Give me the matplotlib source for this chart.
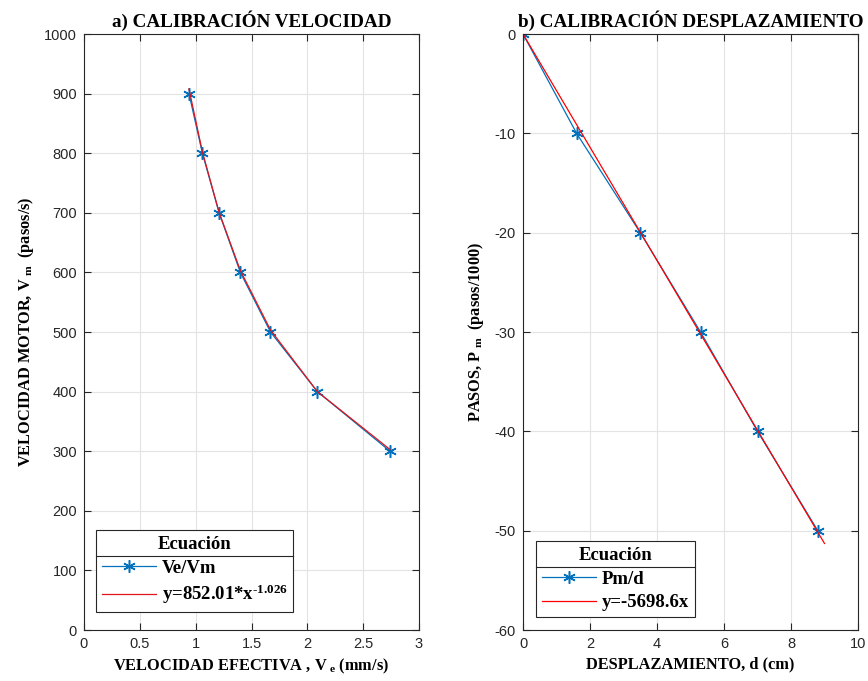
import matplotlib
matplotlib.use("Agg")
import matplotlib.pyplot as plt
import numpy as np
from matplotlib.lines import Line2D

# velocity calibration: effective speed (mm/s) vs motor speed (steps/s)
ve = [0.94, 1.06, 1.21, 1.40, 1.67, 2.09, 2.74]
vm = [900, 800, 700, 600, 500, 400, 300]
fit_a, fit_b = 852.01, -1.026

# displacement calibration: displacement (cm) vs steps (thousands)
d_cm = [0.0, 1.6, 3.5, 5.3, 7.0, 8.8]
pasos = [0, -10, -20, -30, -40, -50]
slope = -5698.6
d_fit = [0.0, 9.0]

plt.rcParams['mathtext.fontset'] = 'custom'
plt.rcParams['mathtext.rm'] = 'Liberation Serif:bold'
plt.rcParams['mathtext.it'] = 'Liberation Serif:bold'
plt.rcParams['mathtext.bf'] = 'Liberation Serif:bold'
plt.rcParams['axes.unicode_minus'] = False

blue = '#0072BD'
axcol = '#262626'
serif = dict(family='Liberation Serif', weight='bold')
star = (6, 2, 0)

fig = plt.figure(figsize=(8.68, 6.81), dpi=100)
ax1 = fig.add_axes([84/868, 51/681, 335/868, 596/681])
ax2 = fig.add_axes([523/868, 51/681, 335/868, 596/681])


def style(ax):
    ax.grid(True, color='#E3E3E3', linewidth=0.8)
    ax.set_axisbelow(True)
    ax.tick_params(direction='in', top=True, right=True, length=5,
                   colors=axcol, labelsize=10.5, width=0.8, pad=5)
    for lab in ax.get_xticklabels() + ax.get_yticklabels():
        lab.set_family('Liberation Sans')
    for s in ax.spines.values():
        s.set_color(axcol)
        s.set_linewidth(0.8)


# a) velocity
ve_arr = np.array(ve)
ax1.plot(ve, vm, color=blue, marker=star, markersize=9, markeredgewidth=1.1,
         linewidth=0.9, label='Ve/Vm')
ax1.plot(ve, fit_a * ve_arr ** fit_b, color='#E0141C', linewidth=0.9,
         label='y=852.01*x$^{\u20101.026}$')
ax1.set_xlim(0, 3)
ax1.set_ylim(0, 1000)
ax1.set_xticks(np.arange(0, 3.01, 0.5))
ax1.set_xticklabels(['0', '0.5', '1', '1.5', '2', '2.5', '3'])
ax1.set_yticks(np.arange(0, 1001, 100))
style(ax1)
ax1.set_title('a) CALIBRACIÓN VELOCIDAD', fontsize=13.8, pad=5, **serif)
ax1.set_xlabel(r'VELOCIDAD EFECTIVA , V$_{\ \rm e}$ (mm/s)', fontsize=11.8, labelpad=4, **serif)
ax1.set_ylabel(r'VELOCIDAD MOTOR, V$_{\ \rm m}$  (pasos/s)', fontsize=11.8, labelpad=6, **serif)

# b) displacement
ax2.plot(d_cm, pasos, color=blue, marker=star, markersize=9, markeredgewidth=1.1,
         linewidth=0.9, label='Pm/d')
ax2.plot(d_fit, [slope * x / 1000 for x in d_fit], color='#FF0000', linewidth=0.9,
         label='y=-5698.6x')
ax2.set_xlim(0, 10)
ax2.set_ylim(-60, 0)
ax2.set_xticks(np.arange(0, 11, 2))
ax2.set_yticks(np.arange(-60, 1, 10))
style(ax2)
ax2.set_title('b) CALIBRACIÓN DESPLAZAMIENTO', fontsize=13.8, pad=5, **serif)
ax2.set_xlabel('DESPLAZAMIENTO, d (cm)', fontsize=11.8, labelpad=4, **serif)
ax2.set_ylabel(r'PASOS, P$_{\ \rm m}$  (pasos/1000)', fontsize=11.8, labelpad=6, **serif)

legs = []
for ax, anchor in [(ax1, (0.036, 0.030)), (ax2, (0.039, 0.022))]:
    leg = ax.legend(loc='lower left', bbox_to_anchor=anchor, title='Ecuación',
                    fancybox=False, edgecolor=axcol, framealpha=1,
                    prop=dict(family='Liberation Serif', weight='bold', size=13.5),
                    handlelength=2.9, handletextpad=0.3, borderpad=0.3,
                    labelspacing=0.35, borderaxespad=0)
    leg.get_title().set_fontproperties(dict(family='Liberation Serif', weight='bold', size=13.5))
    leg.get_frame().set_linewidth(0.8)
    legs.append(leg)

# separator line under each legend title
fig.canvas.draw()
r = fig.canvas.get_renderer()
for leg in legs:
    bb = leg.get_window_extent(r)
    tb = leg.get_title().get_window_extent(r)
    yline = tb.y0 - 3
    fig.add_artist(Line2D([bb.x0 / fig.bbox.width, bb.x1 / fig.bbox.width],
                          [yline / fig.bbox.height] * 2, color=axcol, linewidth=0.8,
                          transform=fig.transFigure))

fig.savefig('out.png', dpi=100)
